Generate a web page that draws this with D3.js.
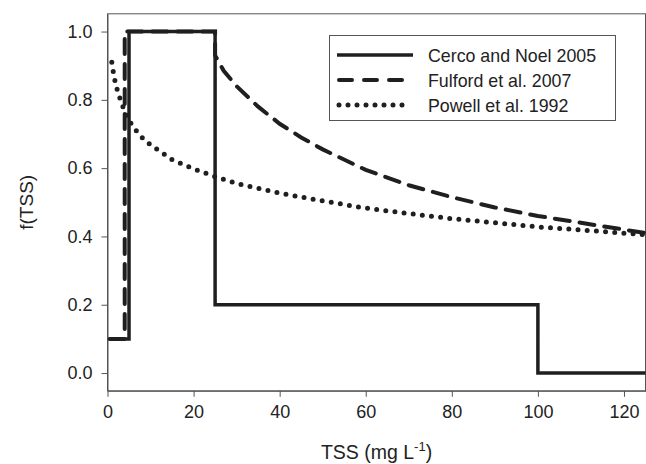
<!DOCTYPE html>
<html>
<head>
<meta charset="utf-8">
<script src="https://cdn.jsdelivr.net/npm/d3@7"></script>
<style>
  html, body { margin: 0; padding: 0; background: #fff; }
  svg { display: block; font-family: "Liberation Sans", Arial, sans-serif; }
</style>
</head>
<body>
<svg id="chart" width="646" height="464"></svg>
<script>
// Light-limitation response f(TSS) from three published formulations
const cercoTSS = [0.5, 5, 5, 25, 25, 100, 100, 125];
const cercoF   = [0.1, 0.1, 1.0, 1.0, 0.2, 0.2, 0.0, 0.0];

const fulfordTSS = [0.5, 4, 4, 25, 25, 27, 30, 35, 40, 45, 50, 60, 70, 80, 90, 100, 110, 125];
const fulfordF   = [0.1, 0.1, 1.0, 1.0, 0.93, 0.885, 0.84, 0.78, 0.73, 0.69, 0.655, 0.595, 0.55, 0.515, 0.485, 0.46, 0.44, 0.41];

const powellTSS = [1, 1.5, 2, 3, 4, 5, 6, 8, 10, 15, 20, 25, 30, 40, 50, 60, 70, 80, 90, 100, 110, 125];
const powellF   = [0.91, 0.87, 0.84, 0.80, 0.765, 0.74, 0.72, 0.69, 0.668, 0.625, 0.598, 0.575, 0.555, 0.527, 0.504, 0.483, 0.467, 0.452, 0.44, 0.428, 0.419, 0.405];

const xTicks = [0, 20, 40, 60, 80, 100, 120];
const yTicks = [0.0, 0.2, 0.4, 0.6, 0.8, 1.0];

const seriesNames = ["Cerco and Noel 2005", "Fulford et al. 2007", "Powell et al. 1992"];

const svg = d3.select("#chart");
const plotLeft = 107.5, plotRight = 645.5, plotTop = 13.8, plotBottom = 390.8;

const x = d3.scaleLinear().domain([0, 125]).range([plotLeft, plotRight]);
const y = d3.scaleLinear().domain([-0.052, 1.052]).range([plotBottom, plotTop]);

const axisColor = "#555";
const ink = "#1f1f1f";

// frame
svg.append("rect")
  .attr("x", plotLeft).attr("y", plotTop)
  .attr("width", plotRight - plotLeft).attr("height", plotBottom - plotTop)
  .attr("fill", "none").attr("stroke", axisColor).attr("stroke-width", 1);

// axes
const xAxis = svg.append("g")
  .attr("transform", `translate(0,${plotBottom})`)
  .call(d3.axisBottom(x).tickValues(xTicks).tickSize(6).tickSizeOuter(0).tickPadding(8).tickFormat(d3.format("d")));
const yAxis = svg.append("g")
  .attr("transform", `translate(${plotLeft},0)`)
  .call(d3.axisLeft(y).tickValues(yTicks).tickSize(6).tickSizeOuter(0).tickPadding(9).tickFormat(d3.format(".1f")));

[xAxis, yAxis].forEach(g => {
  g.select(".domain").attr("stroke", axisColor);
  g.selectAll(".tick line").attr("stroke", axisColor);
  g.selectAll(".tick text")
    .attr("fill", "#222")
    .style("font-size", "18px")
    .style("font-family", "'Liberation Sans', Arial, sans-serif");
});

// axis titles
const xTitle = svg.append("text")
  .attr("x", (plotLeft + plotRight) / 2).attr("y", 459)
  .attr("text-anchor", "middle")
  .attr("fill", "#222")
  .style("font-size", "19.5px");
xTitle.append("tspan").text("TSS (mg L");
xTitle.append("tspan").attr("dy", -8).style("font-size", "13px").text("-1");
xTitle.append("tspan").attr("dy", 8).text(")");

svg.append("text")
  .attr("transform", `translate(33,${(plotTop + plotBottom) / 2}) rotate(-90)`)
  .attr("text-anchor", "middle")
  .attr("fill", "#222")
  .style("font-size", "19px")
  .text("f(TSS)");

// series
const line = d3.line().x(d => x(d[0])).y(d => y(d[1]));
const zip = (a, b) => a.map((v, i) => [v, b[i]]);

const styles = [
  { width: 3.5, dash: null, cap: "butt" },
  { width: 4, dash: "15,10", cap: "round" },
  { width: 5, dash: "0,9.2", cap: "round" }
];

const series = [zip(cercoTSS, cercoF), zip(fulfordTSS, fulfordF), zip(powellTSS, powellF)];

series.forEach((pts, i) => {
  svg.append("path")
    .datum(pts)
    .attr("d", line)
    .attr("fill", "none")
    .attr("stroke", ink)
    .attr("stroke-width", styles[i].width)
    .attr("stroke-linecap", styles[i].cap)
    .attr("stroke-linejoin", "miter")
    .attr("stroke-dasharray", styles[i].dash);
});

// legend
const lg = svg.append("g");
lg.append("rect")
  .attr("x", 329.5).attr("y", 35.5).attr("width", 286).attr("height", 85)
  .attr("fill", "#fff").attr("stroke", axisColor).attr("stroke-width", 1);

seriesNames.forEach((name, i) => {
  const cy = 55 + i * 25;
  lg.append("line")
    .attr("x1", i === 0 ? 337 : 339).attr("x2", i === 0 ? 413 : 411)
    .attr("y1", cy).attr("y2", cy)
    .attr("stroke", ink)
    .attr("stroke-width", styles[i].width)
    .attr("stroke-linecap", styles[i].cap)
    .attr("stroke-dasharray", i === 1 ? "13,12" : (i === 2 ? "0,9" : null));
  lg.append("text")
    .attr("x", 428).attr("y", cy + 6.5)
    .attr("fill", "#222")
    .style("font-size", "17.8px")
    .text(name);
});
</script>
</body>
</html>
